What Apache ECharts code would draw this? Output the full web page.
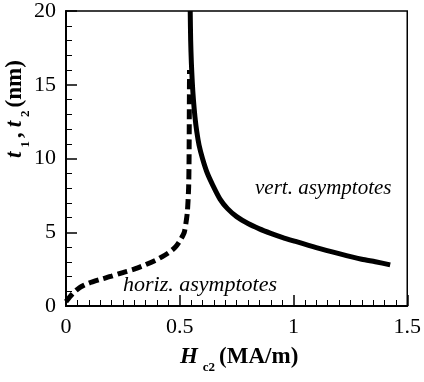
<!DOCTYPE html>
<html><head><meta charset="utf-8">
<script src="https://cdn.jsdelivr.net/npm/echarts@6/dist/echarts.min.js"></script>
<style>html,body{margin:0;padding:0;background:#fff}#c{width:424px;height:382px}</style>
</head><body><div id="c"></div>
<script>
// Dashed curve: horizontal asymptotes
const horizX = [0.0, 0.03, 0.06, 0.1, 0.15, 0.2, 0.25, 0.3, 0.35, 0.4, 0.45, 0.48, 0.5, 0.52, 0.533, 0.539, 0.541, 0.542, 0.543];
const horizY = [0.3, 0.85, 1.25, 1.55, 1.8, 2.02, 2.27, 2.5, 2.8, 3.15, 3.6, 3.98, 4.4, 5.0, 6.3, 8.0, 10.0, 13.0, 16.0];
// Solid curve: vertical asymptotes
const vertX = [0.546, 0.548, 0.551, 0.555, 0.56, 0.567, 0.575, 0.585, 0.6, 0.62, 0.645, 0.677, 0.71, 0.75, 0.8, 0.85, 0.9, 0.95, 1.0, 1.1, 1.2, 1.3, 1.36, 1.425];
const vertY = [20.0, 18.0, 16.5, 15.2, 14.0, 12.8, 11.8, 10.9, 10.0, 9.05, 8.2, 7.25, 6.6, 6.06, 5.59, 5.23, 4.93, 4.66, 4.42, 3.96, 3.55, 3.17, 3.0, 2.79];
const xTicks = [0, 0.5, 1, 1.5];
const yTicks = [0, 5, 10, 15, 20];

const zip = (a, b) => a.map((v, i) => [v, b[i]]);
const serif = '"Liberation Serif", "DejaVu Serif", serif';

const chart = echarts.init(document.getElementById('c'));
chart.setOption({
  animation: false,
  grid: { left: 66, top: 10.5, right: 11, bottom: 76, show: true, borderColor: '#000', borderWidth: 1.5, backgroundColor: 'transparent' },
  xAxis: {
    type: 'value', min: xTicks[0], max: xTicks[xTicks.length - 1], interval: 0.5,
    axisLine: { lineStyle: { color: '#000', width: 2 } },
    axisTick: { inside: true, length: 11, lineStyle: { color: '#000', width: 1.5 } },
    minorTick: { show: true, splitNumber: 10, length: 6, lineStyle: { color: '#000', width: 1 } },
    splitLine: { show: false },
    axisLabel: { color: '#000', fontFamily: serif, fontSize: 22, margin: 10,
      formatter: v => String(v) },
    name: '{i|H}{s|c2}{n|(MA/m)}', nameLocation: 'middle', nameGap: 40,
    nameTextStyle: {
      rich: {
        i: { fontFamily: serif, fontStyle: 'italic', fontWeight: 'bold', fontSize: 23, color: '#000', verticalAlign: 'top', padding: [0, 5, 0, 5] },
        s: { fontFamily: serif, fontWeight: 'bold', fontSize: 13, color: '#000', verticalAlign: 'top', padding: [15, 4, 0, 0] },
        n: { fontFamily: serif, fontWeight: 'bold', fontSize: 23, color: '#000', verticalAlign: 'top' }
      }
    }
  },
  yAxis: {
    type: 'value', min: yTicks[0], max: yTicks[yTicks.length - 1], interval: 5,
    axisLine: { lineStyle: { color: '#000', width: 2 } },
    axisTick: { inside: true, length: 11, lineStyle: { color: '#000', width: 1.5 } },
    minorTick: { show: true, splitNumber: 5, length: 6, lineStyle: { color: '#000', width: 1 } },
    splitLine: { show: false },
    axisLabel: { color: '#000', fontFamily: serif, fontSize: 22, margin: 10 }
  },
  graphic: [
    {
      type: 'text', x: 18, y: 158, rotation: Math.PI / 2,
      style: {
        text: '{i|t}{s|1}{n|,}{i|t}{s|2}{n|(nm)}',
        align: 'left', verticalAlign: 'middle',
        rich: {
          i: { fontFamily: serif, fontStyle: 'italic', fontWeight: 'bold', fontSize: 23, fill: '#000', verticalAlign: 'top', padding: [0, 4, 0, 0] },
          s: { fontFamily: serif, fontWeight: 'bold', fontSize: 13, fill: '#000', verticalAlign: 'top', padding: [15, 3, 0, 0] },
          n: { fontFamily: serif, fontWeight: 'bold', fontSize: 23, fill: '#000', verticalAlign: 'top', padding: [0, 5, 0, 0] }
        }
      }
    },
    {
      type: 'text', left: 255, top: 178,
      style: { text: 'vert. asymptotes', font: 'italic 21px "Liberation Serif", serif', fill: '#000' }
    },
    {
      type: 'text', left: 123, top: 274,
      style: { text: 'horiz. asymptotes', font: 'italic 22px "Liberation Serif", serif', fill: '#000' }
    }
  ],
  series: [
    {
      type: 'line', data: zip(horizX, horizY), showSymbol: false, smooth: 0.2, clip: true,
      lineStyle: { color: '#000', width: 5, type: [10, 5], cap: 'butt' }
    },
    {
      type: 'line', data: zip(vertX, vertY), showSymbol: false, smooth: 0.25, clip: true,
      lineStyle: { color: '#000', width: 5 }
    }
  ]
});
</script></body></html>
